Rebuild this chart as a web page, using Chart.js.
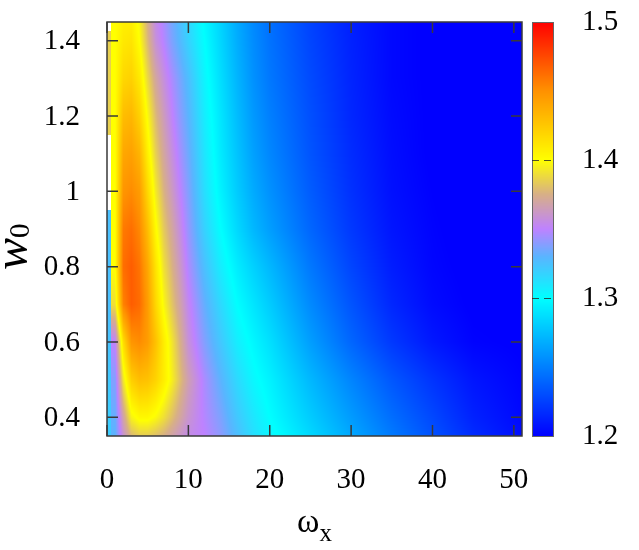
<!DOCTYPE html>
<html>
<head>
<meta charset="utf-8">
<script src="https://cdn.jsdelivr.net/npm/chart.js@4.4.1/dist/chart.umd.min.js"></script>
<style>
  html, body { margin: 0; padding: 0; background: #fff; }
  #wrap { width: 639px; height: 550px; }
</style>
</head>
<body>
<div id="wrap"><canvas id="map"></canvas></div>
<script>
// grid columns (omega_x) and rows (w0)
const OMEGA_X = [0, 1, 2, 3, 4, 5, 6, 7, 8, 9, 10, 12, 14, 16, 18, 20, 25, 30, 35, 40, 45, 51];
const W0 = [0.35, 0.4, 0.5, 0.6, 0.7, 0.8, 0.9, 1.0, 1.1, 1.2, 1.3, 1.4, 1.45];
const ENERGY = [
  [1.32, 1.33, 1.36, 1.378, 1.384, 1.384, 1.38, 1.375, 1.368, 1.361, 1.355, 1.35, 1.34, 1.326, 1.313, 1.304, 1.285, 1.266, 1.248, 1.232, 1.217, 1.205],
  [1.32, 1.332, 1.368, 1.396, 1.403, 1.403, 1.398, 1.39, 1.38, 1.37, 1.36, 1.348, 1.337, 1.322, 1.31, 1.30, 1.28, 1.261, 1.243, 1.228, 1.213, 1.203],
  [1.322, 1.338, 1.392, 1.422, 1.43, 1.428, 1.42, 1.408, 1.395, 1.38, 1.366, 1.346, 1.33, 1.315, 1.303, 1.295, 1.272, 1.252, 1.234, 1.22, 1.208, 1.201],
  [1.324, 1.35, 1.415, 1.448, 1.452, 1.445, 1.428, 1.408, 1.392, 1.375, 1.358, 1.338, 1.322, 1.307, 1.297, 1.288, 1.262, 1.24, 1.222, 1.209, 1.201, 1.199],
  [1.325, 1.39, 1.455, 1.468, 1.463, 1.445, 1.418, 1.397, 1.382, 1.368, 1.353, 1.332, 1.315, 1.30, 1.29, 1.28, 1.254, 1.233, 1.215, 1.204, 1.199, 1.198],
  [1.325, 1.40, 1.462, 1.468, 1.46, 1.44, 1.412, 1.39, 1.376, 1.362, 1.347, 1.325, 1.307, 1.293, 1.282, 1.272, 1.247, 1.227, 1.211, 1.202, 1.198, 1.197],
  [1.325, 1.40, 1.458, 1.462, 1.453, 1.43, 1.402, 1.383, 1.37, 1.356, 1.342, 1.318, 1.30, 1.285, 1.272, 1.262, 1.24, 1.222, 1.208, 1.201, 1.197, 1.196],
  [null, 1.40, 1.448, 1.452, 1.445, 1.418, 1.393, 1.376, 1.363, 1.35, 1.338, 1.313, 1.295, 1.28, 1.267, 1.257, 1.236, 1.219, 1.206, 1.2, 1.196, 1.195],
  [null, 1.40, 1.44, 1.443, 1.434, 1.407, 1.385, 1.37, 1.357, 1.345, 1.334, 1.31, 1.292, 1.277, 1.263, 1.253, 1.233, 1.217, 1.205, 1.199, 1.196, 1.195],
  [1.385, 1.40, 1.43, 1.433, 1.421, 1.398, 1.378, 1.364, 1.351, 1.34, 1.33, 1.307, 1.29, 1.274, 1.26, 1.25, 1.231, 1.215, 1.204, 1.199, 1.196, 1.195],
  [1.385, 1.40, 1.418, 1.421, 1.41, 1.388, 1.37, 1.357, 1.346, 1.336, 1.326, 1.304, 1.287, 1.271, 1.257, 1.247, 1.229, 1.214, 1.203, 1.199, 1.196, 1.195],
  [1.385, 1.40, 1.41, 1.412, 1.40, 1.378, 1.358, 1.348, 1.337, 1.328, 1.318, 1.30, 1.284, 1.268, 1.255, 1.245, 1.227, 1.213, 1.203, 1.199, 1.196, 1.195],
  [null, 1.40, 1.407, 1.408, 1.397, 1.375, 1.355, 1.346, 1.335, 1.326, 1.316, 1.298, 1.283, 1.267, 1.254, 1.244, 1.226, 1.212, 1.203, 1.199, 1.196, 1.195]
];

const X_TICKS = [0, 10, 20, 30, 40, 50];
const Y_TICKS = [0.4, 0.6, 0.8, 1, 1.2, 1.4];
const Y_TICK_LABELS = ['0.4', '0.6', '0.8', '1', '1.2', '1.4'];
const CB_TICKS = [1.2, 1.3, 1.4, 1.5];
const CB_TICK_LABELS = ['1.2', '1.3', '1.4', '1.5'];

// palette stops (value -> rgb), gnuplot-like
const PALETTE = [
  [1.2, [0, 0, 255]],
  [1.3, [0, 255, 255]],
  [1.33, [90, 180, 255]],
  [1.35, [190, 130, 255]],
  [1.375, [215, 175, 135]],
  [1.4, [255, 255, 0]],
  [1.45, [255, 145, 0]],
  [1.5, [255, 0, 0]]
];

const FONT = "'Liberation Serif', 'Times New Roman', serif";

function colorOf(v) {
  if (v <= PALETTE[0][0]) return PALETTE[0][1];
  for (let i = 0; i < PALETTE.length - 1; i++) {
    const [v0, c0] = PALETTE[i];
    const [v1, c1] = PALETTE[i + 1];
    if (v <= v1) {
      const t = (v - v0) / (v1 - v0);
      return [0, 1, 2].map(k => Math.round(c0[k] + (c1[k] - c0[k]) * t));
    }
  }
  return PALETTE[PALETTE.length - 1][1];
}

function locate(arr, v) {
  let i = 0;
  while (i < arr.length - 2 && v > arr[i + 1]) i++;
  const t = (v - arr[i]) / (arr[i + 1] - arr[i]);
  return [i, Math.max(0, Math.min(1, t))];
}

function valueAt(x, y) {
  const [j, ty] = locate(W0, y);
  const colVal = (c) => {
    const a = ENERGY[j][c], b = ENERGY[j + 1][c];
    if (a == null && b == null) return null;
    if (a == null) return ty > 0.5 ? b : null;
    if (b == null) return ty < 0.5 ? a : null;
    return a + (b - a) * ty;
  };
  // the first column shows as its own half cell, like in the reference
  const edge = (OMEGA_X[0] + OMEGA_X[1]) / 2;
  if (x < edge) return colVal(0);
  const [i, tx] = locate(OMEGA_X, x);
  if (i === 0) return colVal(1);
  const a = colVal(i), b = colVal(i + 1);
  return a + (b - a) * tx;
}

const points = [];
W0.forEach((w, j) => OMEGA_X.forEach((o, i) => {
  points.push({ x: o, y: w, v: ENERGY[j][i] });
}));

// fixed axis boxes: plot frame at 107..522 x 22..436
const fixBox = (size) => (s) => {
  if (s.isHorizontal()) s.height = size; else s.width = size;
  s.paddingTop = 0; s.paddingBottom = 0; s.paddingLeft = 0; s.paddingRight = 0;
};

const heatmapPlugin = {
  id: 'heatmap',
  beforeDatasetsDraw(chart) {
    const { ctx, chartArea: a, scales } = chart;
    const xs = scales.x, ys = scales.y;
    const left = Math.round(a.left), top = Math.round(a.top);
    const w = Math.round(a.right) - left, h = Math.round(a.bottom) - top;
    const img = ctx.createImageData(w, h);
    const xv = [];
    for (let px = 0; px < w; px++) xv.push(xs.getValueForPixel(left + px + 0.5));
    for (let py = 0; py < h; py++) {
      const yv = ys.getValueForPixel(top + py + 0.5);
      for (let px = 0; px < w; px++) {
        const v = valueAt(xv[px], yv);
        const c = v == null ? [255, 255, 255] : colorOf(v);
        const k = (py * w + px) * 4;
        img.data[k] = c[0]; img.data[k + 1] = c[1]; img.data[k + 2] = c[2]; img.data[k + 3] = 255;
      }
    }
    ctx.putImageData(img, left, top);
  },
  afterDraw(chart) {
    const { ctx, chartArea: a, scales } = chart;
    const xs = scales.x, ys = scales.y, cb = scales.cb;
    ctx.save();

    // frame + inward ticks, mirrored
    ctx.strokeStyle = '#3a3a3a';
    ctx.lineWidth = 1.5;
    ctx.strokeRect(a.left, a.top, a.right - a.left, a.bottom - a.top);
    ctx.beginPath();
    X_TICKS.forEach(v => {
      const p = xs.getPixelForValue(v);
      ctx.moveTo(p, a.bottom); ctx.lineTo(p, a.bottom - 11);
      ctx.moveTo(p, a.top); ctx.lineTo(p, a.top + 11);
    });
    Y_TICKS.forEach(v => {
      const p = ys.getPixelForValue(v);
      ctx.moveTo(a.left, p); ctx.lineTo(a.left + 11, p);
      ctx.moveTo(a.right, p); ctx.lineTo(a.right - 11, p);
    });
    ctx.stroke();

    // y tick labels, right aligned 27px left of the frame
    ctx.fillStyle = '#000';
    ctx.font = `29px ${FONT}`;
    ctx.textAlign = 'right';
    ctx.textBaseline = 'middle';
    Y_TICKS.forEach((v, i) => {
      ctx.fillText(Y_TICK_LABELS[i], a.left - 27, ys.getPixelForValue(v) + 1);
    });

    // colour box
    const bx = a.right + 10, bw = 21;
    const t = Math.round(cb.top), b = Math.round(cb.bottom);
    for (let py = t; py < b; py++) {
      const c = colorOf(cb.getValueForPixel(py + 0.5));
      ctx.fillStyle = `rgb(${c[0]},${c[1]},${c[2]})`;
      ctx.fillRect(bx, py, bw, 1);
    }
    ctx.strokeStyle = '#666';
    ctx.lineWidth = 1;
    ctx.strokeRect(bx + 0.5, t + 0.5, bw, b - t);
    ctx.setLineDash([7, 5]);
    ctx.strokeStyle = 'rgba(40,40,40,0.8)';
    ctx.beginPath();
    CB_TICKS.slice(1, -1).forEach(v => {
      const p = Math.round(cb.getPixelForValue(v)) + 0.5;
      ctx.moveTo(bx, p); ctx.lineTo(bx + bw, p);
    });
    ctx.stroke();
    ctx.setLineDash([]);

    // axis titles with subscripts
    ctx.fillStyle = '#000';
    ctx.textBaseline = 'alphabetic';
    ctx.textAlign = 'left';
    const cx = (a.left + a.right) / 2;
    ctx.font = `34px ${FONT}`;
    const wOm = ctx.measureText('ω').width;
    ctx.font = `25px ${FONT}`;
    const wX = ctx.measureText('x').width;
    const sx = cx - (wOm + wX) / 2;
    ctx.font = `34px ${FONT}`;
    ctx.fillText('ω', sx, 532);
    ctx.font = `25px ${FONT}`;
    ctx.fillText('x', sx + wOm, 541);

    ctx.translate(27, 270);
    ctx.rotate(-Math.PI / 2);
    ctx.font = `italic 48px ${FONT}`;
    ctx.fillText('w', 0, 0);
    const ww = ctx.measureText('w').width;
    ctx.font = `29px ${FONT}`;
    ctx.fillText('0', ww, 2);
    ctx.restore();
  }
};

const tickFont = { family: FONT, size: 29 };

new Chart(document.getElementById('map'), {
  type: 'scatter',
  data: {
    datasets: [{
      data: points,
      pointRadius: 0,
      pointHoverRadius: 0
    }]
  },
  options: {
    responsive: true,
    maintainAspectRatio: false,
    animation: false,
    events: [],
    layout: {
      padding: { left: 0, right: 0, top: 22, bottom: 0 }
    },
    plugins: {
      legend: { display: false },
      tooltip: { enabled: false }
    },
    scales: {
      x: {
        type: 'linear',
        min: 0,
        max: 51,
        afterBuildTicks: (s) => { s.ticks = X_TICKS.map(v => ({ value: v })); },
        afterFit: fixBox(114),
        grid: { display: false, drawTicks: false, tickLength: 0 },
        border: { display: false },
        ticks: {
          padding: 27,
          color: '#000',
          font: tickFont,
          maxRotation: 0,
          callback: (v) => String(v)
        }
      },
      y: {
        type: 'linear',
        min: 0.35,
        max: 1.45,
        afterBuildTicks: (s) => { s.ticks = Y_TICKS.map(v => ({ value: v })); },
        afterFit: fixBox(107),
        grid: { display: false, drawTicks: false, tickLength: 0 },
        border: { display: false },
        ticks: { display: false }
      },
      cb: {
        type: 'linear',
        position: 'right',
        min: 1.2,
        max: 1.5,
        afterBuildTicks: (s) => { s.ticks = CB_TICKS.map(v => ({ value: v })); },
        afterFit: fixBox(117),
        grid: { display: false, drawTicks: false, tickLength: 0 },
        border: { display: false },
        ticks: {
          padding: 60,
          color: '#000',
          font: tickFont,
          callback: (v, i) => CB_TICK_LABELS[i]
        }
      }
    }
  },
  plugins: [heatmapPlugin]
});
</script>
</body>
</html>
